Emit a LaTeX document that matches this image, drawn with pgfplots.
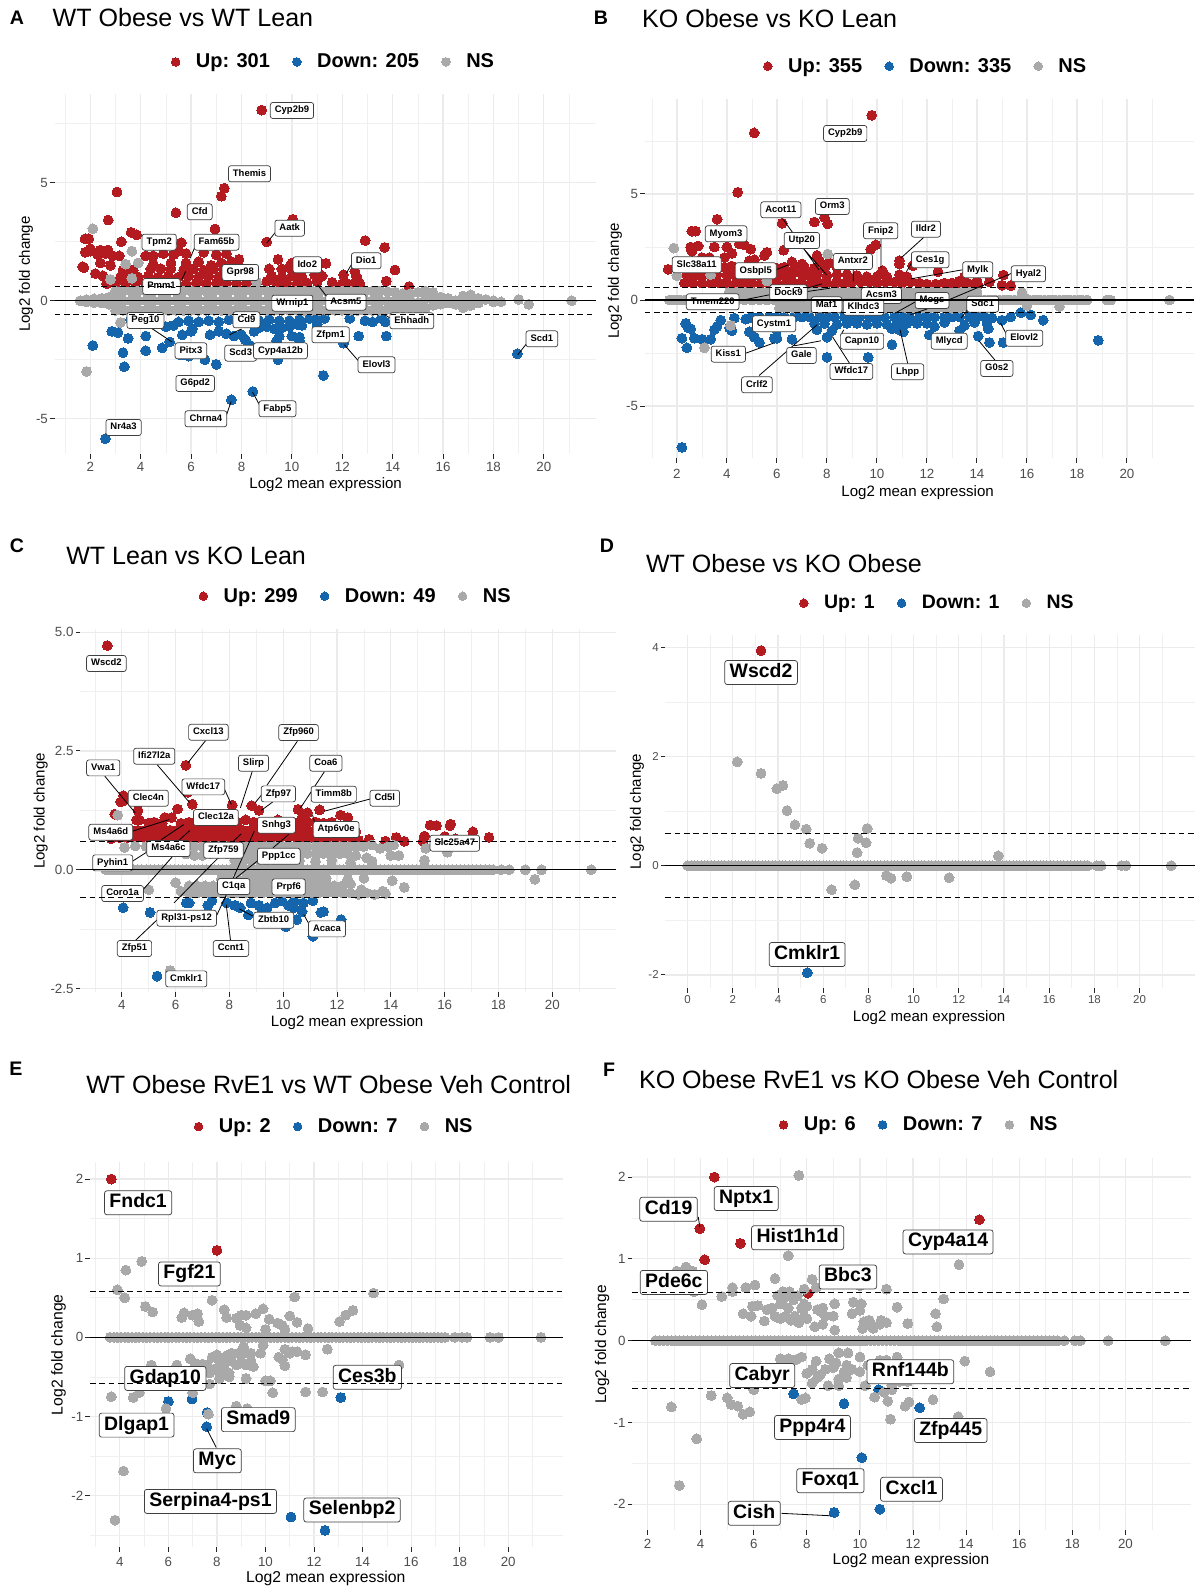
\documentclass[border=0pt]{standalone}
\usepackage{fontspec}
\setmainfont{Liberation Sans}
\usepackage{pgfplots}
\pgfplotsset{compat=1.18}
\definecolor{up}{HTML}{B31B21}
\definecolor{dn}{HTML}{1465AC}
\definecolor{ns}{HTML}{A9A9A9}
\definecolor{tk}{HTML}{4D4D4D}
\pgfplotsset{
 ma/.style={scale only axis, anchor=south west,
  axis line style={draw=none}, tick align=outside, xtick pos=bottom, ytick pos=left,
  major tick length=3.4pt, minor tick length=0pt,
  tick style={color=black!85,line width=.75pt},
  grid=both, major grid style={color=black!8,line width=.95pt}, minor grid style={color=black!6,line width=.5pt},
  xtick={0,2,...,20}, minor xtick={1,3,...,21},
  /pgf/number format/assume math mode=true,
  ticklabel style={font=\fontsize{10}{11}\selectfont,text=tk},
  tick label style={inner sep=1.5pt},
  xlabel={Log2 mean expression}, ylabel={Log2 fold change},
  label style={font=\fontsize{11.3}{12}\selectfont},
  legend columns=3, legend cell align=left,
  legend image post style={mark size=3.2pt},
  legend style={draw=none,fill=none,anchor=center,font=\bfseries\fontsize{15}{16}\selectfont,
    /tikz/every even column/.append style={column sep=15pt},
    /tikz/every odd column/.append style={column sep=10pt}},
  clip=false},
 up/.style={only marks,mark=*,mark size=3.7pt,color=up,mark options={draw=up,fill=up,line width=0pt}},
 dn/.style={only marks,mark=*,mark size=3.7pt,color=dn,mark options={draw=dn,fill=dn,line width=0pt}},
 ns/.style={only marks,mark=*,mark size=3.7pt,color=ns,mark options={draw=ns,fill=ns,line width=0pt}},
 hl/.style={scale only axis,anchor=south west,hide axis,clip=false},
}
\tikzset{
 lab/.style={draw=black!75,fill=white,rounded corners=1.8pt,line width=.55pt,font=\bfseries\fontsize{7.1}{8}\selectfont,
   inner xsep=3.4pt,inner ysep=0pt,text height=5pt,text depth=1.4pt,minimum height=12pt},
 big/.style={draw=black!75,fill=white,rounded corners=1.8pt,line width=.55pt,font=\bfseries\fontsize{14.6}{16}\selectfont,
   inner xsep=3.7pt,inner ysep=0pt,text height=10.4pt,text depth=3pt,minimum height=18pt},
 ttl/.style={anchor=west,inner sep=0pt,font=\fontsize{18.8}{20}\selectfont},
 pl/.style={inner sep=0pt,font=\bfseries\fontsize{14.7}{16}\selectfont},
 seg/.style={draw=black,line width=.6pt},
}
\newcommand\hlines[7]{%
\begin{axis}[hl,at={(#1)},width=#2pt,height=#3pt,xmin=#4,xmax=#5,ymin=#6,ymax=#7]
\addplot[black,line width=.95pt] coordinates {(#4,0)(#5,0)};
\addplot[black,line width=.75pt,dash pattern=on 4.2pt off 2.8pt] coordinates {(#4,.585)(#5,.585)};
\addplot[black,line width=.75pt,dash pattern=on 4.2pt off 2.8pt] coordinates {(#4,-.585)(#5,-.585)};
\end{axis}}
\begin{document}
\begin{tikzpicture}
\useasboundingbox (0,0) rectangle (897.75pt,-1191.75pt);
% ---------- A ----------
\begin{axis}[ma,at={(41.03pt,-340.5pt)},width=405.98pt,height=269.78pt,xmin=.587,xmax=22.07,ymin=-6.5,ymax=8.75,
 ytick={-5,0,5},minor ytick={-2.5,2.5,7.5},xticklabel style={yshift=-1.4pt},
 xlabel style={at={(axis description cs:.5006,-.085)},anchor=center},
 ylabel style={at={(axis description cs:-.053,.5)},anchor=center},
 legend style={at={(axis description cs:.516,1.09)}}]
\addplot[up] coordinates {(8.8,8.08)(3.06,4.61)(7.32,4.77)(7.2,4.43)(5.4,3.73)(2.71,3.42)(10.03,3.45)(6.95,3.04)(3.62,2.9)(3.84,2.79)(1.79,2.62)(1.94,2.62)(3.23,2.5)(5.61,2.46)(9,2.49)(12.91,2.55)(13.68,2.26)(14.09,1.3)(13.75,.83)(14.65,.6)(12.05,1.1)(12.5,1.25)(12.55,1.05)(12.6,.9)(12.15,.75)(11.35,1.58)
(2.65,.72)(3,.75)(3.4,.72)(3.8,.75)(4.2,.72)(4.6,.75)(5,.72)(5.4,.75)(5.8,.72)(6.2,.75)(6.6,.72)(7,.75)(7.4,.72)(7.8,.75)(8.2,.72)(8.6,.75)(9,.82)(9.4,.72)(9.8,.75)(10.2,.72)(10.6,.75)(11,.8)(11.6,.78)(12,.72)(12.4,.7)(12.7,.72)
(2.2,1.15)(2.5,1.05)(3.2,1)(3.5,1.05)(3.9,1)(4.3,1.05)(4.7,1)(5.1,1.05)(5.5,1)(5.9,1.05)(6.3,1)(6.7,1.05)(7.1,1)(7.5,1.05)(7.9,1.1)(8.3,.95)(9.2,1.05)(9.6,1)(10,1.05)(10.4,1)(10.9,1.1)(11.2,1.05)
(3.3,1.3)(3.7,1.3)(4.4,1.35)(4.8,1.35)(5.2,1.35)(5.7,1.3)(6.1,1.35)(6.5,1.3)(6.9,1.35)(7.3,1.3)(7.7,1.4)(9.1,1.35)(9.6,1.35)(9.9,1.4)(10.3,1.3)
(1.7,1.44)(1.75,1.4)(2.4,1.6)(2.8,1.5)(3.9,1.6)(4.5,1.55)(5.2,1.6)(5.8,1.6)(6.3,1.65)(6.8,1.5)(7.2,1.6)(7.6,1.65)(7.9,1.75)(9.45,1.75)(10,1.6)
(1.8,2.05)(2,2.1)(2.3,1.95)(2.6,2)(2.9,1.9)(3.15,1.9)(4.2,1.9)(4.5,1.9)(4.9,2)(5.3,1.95)(5.5,2.1)(5.8,2)(6.5,2.05)(7,1.95)(7.4,2)(2,2.2)(2.4,2.15)(2.7,2.15)};
\addlegendentry{Up: 301}
\addplot[dn] coordinates {(2.6,-5.85)(7.6,-4.2)(8.45,-3.85)(11.25,-3.17)(18.95,-2.25)(12.05,-1.8)(2.1,-1.9)(3.3,-2.2)(3.35,-2.8)(4.2,-2.12)(4.85,-2)(4.2,-1.5)(3.5,-1.6)(2.85,-1.3)(3.1,-1.35)(7,-2.7)(6.55,-2.5)(5.6,-2.3)(5.9,-2.35)(9.45,-2.5)(5.15,-1.75)(5.65,-1.45)(6.05,-1.2)(6,-1.3)(6.75,-1.45)(7.1,-1.3)(7.4,-1.4)(7.7,-1.5)(8,-1.45)(8.15,-1.65)(8.35,-1.9)(8.5,-1.3)(12.3,-.75)(12.9,-.85)(13.2,-.9)(13.55,-.75)(13.7,-.9)(13.75,-1.5)(12.65,-1.5)
(3.6,-.8)(4.2,-.85)(4.7,-.8)(5.5,-.9)(5.9,-.85)(6.3,-.9)(6.7,-.85)(7.1,-.9)(7.5,-.8)(7.9,-.85)(8.3,-.9)(8.7,-.85)(9.1,-.8)(9.5,-.85)(9.9,-.85)(10.3,-.8)(10.7,-.75)(11,-.8)(11.3,-.75)(5,-1.1)(5.3,-1.05)(8.7,-1.15)(9,-1.1)(9.3,-1.2)(9.6,-1.15)(9.9,-1.1)(10.2,-1)(10.4,-1.05)(9.5,-1.5)(10,-1.5)(10.3,-1.55)(9.4,-1.7)(10.3,-1.7)(11,-1)};
\addlegendentry{Down: 205}
\addplot[ns] coordinates {(1.6,0)(1.85,.05)(1.85,-.05)(2.15,.08)(2.15,-.08)(2.45,.1)(2.45,-.1)(2.75,.15)(2.75,-.15)(2.75,0)
(3,.41)(3.3,.41)(3.6,.41)(3.9,.41)(4.2,.41)(4.5,.41)(4.8,.41)(5.1,.41)(5.4,.41)(5.7,.41)(6,.41)(6.3,.41)(6.6,.41)(6.9,.41)(7.2,.41)(7.5,.41)(7.8,.41)(8.1,.41)(8.4,.41)(8.7,.41)(9,.41)(9.3,.41)(9.6,.41)(9.9,.41)(10.2,.41)(10.5,.41)(10.8,.41)(11.1,.41)(11.4,.41)(11.7,.41)(12,.41)(12.3,.41)(12.6,.41)(12.9,.41)(13.2,.41)(13.5,.41)(13.8,.38)(14.1,.36)
(3,0)(3.3,0)(3.6,0)(3.9,0)(4.2,0)(4.5,0)(4.8,0)(5.1,0)(5.4,0)(5.7,0)(6,0)(6.3,0)(6.6,0)(6.9,0)(7.2,0)(7.5,0)(7.8,0)(8.1,0)(8.4,0)(8.7,0)(9,0)(9.3,0)(9.6,0)(9.9,0)(10.2,0)(10.5,0)(10.8,0)(11.1,0)(11.4,0)(11.7,0)(12,0)(12.3,0)(12.6,0)(12.9,0)(13.2,0)(13.5,0)(13.8,0)(14.1,0)
(3,-.41)(3.3,-.41)(3.6,-.41)(3.9,-.41)(4.2,-.41)(4.5,-.41)(4.8,-.41)(5.1,-.41)(5.4,-.41)(5.7,-.41)(6,-.41)(6.3,-.41)(6.6,-.41)(6.9,-.41)(7.2,-.41)(7.5,-.41)(7.8,-.41)(8.1,-.41)(8.4,-.41)(8.7,-.41)(9,-.41)(9.3,-.41)(9.6,-.41)(9.9,-.41)(10.2,-.41)(10.5,-.41)(10.8,-.41)(11.1,-.41)(11.4,-.41)(11.7,-.41)(12,-.41)(12.3,-.41)(12.6,-.41)(12.9,-.41)(13.2,-.41)(13.5,-.41)(13.8,-.36)(14.1,-.35)
(3.2,.2)(3.8,.2)(4.4,.2)(5,.2)(5.6,.2)(6.2,.2)(6.8,.2)(7.4,.2)(8,.2)(8.6,.2)(9.2,.2)(9.8,.2)(10.4,.2)(11,.2)(11.6,.2)(12.2,.2)(12.8,.2)(13.4,.2)(3.2,-.2)(3.8,-.2)(4.4,-.2)(5,-.2)(5.6,-.2)(6.2,-.2)(6.8,-.2)(7.4,-.2)(8,-.2)(8.6,-.2)(9.2,-.2)(9.8,-.2)(10.4,-.2)(11,-.2)(11.6,-.2)(12.2,-.2)(12.8,-.2)(13.4,-.2)
(14.4,.3)(14.4,0)(14.4,-.3)(14.7,.3)(14.7,0)(14.7,-.3)(15,.35)(15,-.1)(15,-.35)(15.3,.4)(15.3,.1)(15.3,-.3)(15.6,.35)(15.6,0)(15.6,-.2)(15.9,.15)(15.9,-.15)(16.2,.1)(16.2,-.1)(16.5,0)(16.5,-.15)(16.8,.2)(16.8,-.05)(16.8,-.3)(17.1,.25)(17.1,0)(17.1,-.2)(17.4,.1)(17.4,-.1)(17.7,.05)(18,0)(18,-.05)(18.3,-.05)(19,.05)(19.4,-.15)(21.1,0)
(2.1,3.05)(3.65,2.1)(3.4,1.55)(3.9,1.6)(2.8,.9)(3.65,.95)(1.85,-3)(3.2,-.92)(8.6,.8)};
\addlegendentry{NS}
\end{axis}
% ---------- B ----------
\begin{axis}[ma,at={(483.6pt,-343.5pt)},width=411.9pt,height=269.25pt,xmin=.716,xmax=22.68,ymin=-7.45,ymax=9.48,
 ytick={-5,0,5},minor ytick={-7.5,-2.5,2.5,7.5},xticklabel style={yshift=-3.4pt},
 xlabel style={at={(axis description cs:.4967,-.0965)},anchor=center},
 ylabel style={at={(axis description cs:-.0543,.493)},anchor=center},
 legend style={at={(axis description cs:.5125,1.0915)}}]
\addplot[up] coordinates {(9.79,8.71)(5.09,7.88)(4.43,5.08)(3.61,3.81)(2.6,3.25)(2.75,3.25)(6.21,3.62)(7.5,3.68)(7.9,3.9)(8.03,3.59)(6.27,2.35)(9.95,2.6)(9.75,2.4)(10.9,1.86)(10.9,1.7)(11.43,1.62)(12.44,1.34)(10.22,1.38)(15.06,1.18)(15.35,.68)(15,.7)(14.5,.85)(14,.9)(13.5,1.1)(13.3,.9)(1.65,1.45)(2.55,2.5)(2.85,2.55)(3.5,2.5)(4,2.5)(4.5,2.65)(4.7,2.6)(4.95,2.4)(3.3,2)(4.2,2.2)(3.9,2)(5.5,2.1)(5.6,2.25)(5.1,1.9)(4.9,1.85)(2.6,2.3)(3,2)(7.6,2.1)(7.7,1.85)(6.6,1.8)(7,1.7)(8.1,1.75)(8.4,1.55)
(2.3,.8)(2.65,.8)(3,.8)(3.35,.8)(3.7,.8)(4,.8)(4.35,.8)(4.7,.8)(5,.8)(5.35,.8)(5.7,.8)(6,.8)(6.35,.8)(6.7,.8)(7,.8)(7.35,.8)(7.7,.8)(8,.8)(8.35,.8)(8.7,.8)(9,.85)(9.35,.85)(9.7,.85)(10,.8)(10.35,.85)(10.7,.85)(11,.8)(11.35,.85)(11.7,.8)(12,.75)(12.35,.75)(12.7,.8)(13,.8)(13.35,.7)(13.7,.75)(14.05,.7)
(2.4,1.2)(2.7,1.15)(3,1.1)(3.6,1.2)(4,1.2)(4.3,1.2)(4.6,1.15)(5,1.2)(5.3,1.15)(5.6,1.2)(6,1.2)(6.3,1.15)(6.6,1.2)(7,1.2)(7.3,1.15)(7.6,1.2)(8,1.15)(8.4,1.2)(8.8,1.2)(9.2,1.15)(9.6,1.1)(10,1.1)(10.4,1.1)(10.9,1.2)(11.2,1.1)
(2.1,1.5)(2.7,1.6)(3.1,1.5)(3.9,1.55)(4.2,1.6)(4.6,1.5)(5,1.6)(5.4,1.55)(6,1.5)(6.3,1.55)(6.7,1.5)(7.1,1.55)(7.5,1.5)(7.9,1.5)};
\addlegendentry{Up: 355}
\addplot[dn] coordinates {(2.2,-6.95)(18.85,-1.9)(2.35,-1.1)(2.45,-1.3)(2.55,-1.35)(2.2,-1.8)(2.4,-2.25)(2.7,-1.8)(3,-1.85)(3.35,-1.85)(3.5,-1.4)(3.6,-1.25)(3.75,-.95)(4.1,-1.3)(4.2,-1.45)(4.3,-.85)(4.75,-.9)(4.9,-.85)(4.9,-1.5)(5.1,-1.75)(5.3,-2)(5.9,-1.8)(6,-1.8)(6,-1.4)(6.6,-1.85)(7.6,-1.4)(8,-1.75)(8.2,-1.45)(8,-2.7)(9.65,-2.7)(10.6,-2.1)(11.05,-1.5)(12.1,-1.65)(12.3,-1.25)(13.3,-1.45)(14.05,-1.7)(14.45,-1.35)(14.5,-2)(15,-.95)(15.05,-2)(15.35,-.8)(15.75,-.6)(16.15,-.7)(16.65,-.95)
(5,-.8)(5.3,-.8)(5.7,-.8)(6,-.8)(6.3,-.8)(6.7,-.8)(7,-.8)(7.3,-.8)(7.7,-.8)(8,-.8)(8.3,-.8)(8.7,-.8)(9,-.8)(9.3,-.8)(9.7,-.8)(10,-.8)(10.3,-.8)(10.7,-.8)(11,-.8)(11.3,-.8)(11.7,-.8)(12,-.8)(12.3,-.8)(12.7,-.8)(13,-.8)(13.3,-.8)(13.7,-.8)(14,-.8)(14.3,-.8)(14.6,-.85)
(7.5,-1.1)(7.9,-1.1)(8.4,-1.15)(8.8,-1.1)(9.2,-1.1)(9.6,-1.15)(10,-1.1)(10.4,-1.15)(10.8,-1.1)(11.2,-1.1)(11.6,-1.1)(12,-1.1)(12.7,-1.05)(13.5,-1.2)(13.9,-1.05)(14.4,-1.1)(10.6,-1.35)(10.9,-1.4)};
\addlegendentry{Down: 335}
\addplot[ns] coordinates {(1.7,0)(2,0)(2.3,0)(2.6,0)(2.9,0)(3.2,0)(3.5,0)(3.8,0)(4.1,0)(4.4,0)(4.7,0)(5,0)(5.3,0)(5.6,0)(5.9,0)(6.2,0)(6.5,0)(6.8,0)(7.1,0)(7.4,0)(7.7,0)(8,0)(8.3,0)(8.6,0)(8.9,0)(9.2,0)(9.5,0)(9.8,0)(10.1,0)(10.4,0)(10.7,0)(11,0)(11.3,0)(11.6,0)(11.9,0)(12.2,0)(12.5,0)(12.8,0)(13.1,0)(13.4,0)(13.7,0)(14,0)(14.3,0)(14.6,0)(14.9,0)(15.2,0)(15.5,0)(15.8,0)(16.1,0)(16.4,0)(16.7,0)(17,0)(17.3,0)(17.6,0)(17.9,0)(18.2,0)(18.4,0)(19.2,0)(19.35,0)(21.7,0)
(1.85,0)(2.15,0)(2.45,0)(2.75,0)(3.05,0)(14.15,0)(14.45,0)(14.75,0)(15.05,0)(15.35,0)(15.65,0)(15.95,0)(16.25,0)(16.55,0)(16.85,0)(17.15,0)(17.45,0)(17.75,0)(18.05,0)
(1.88,2.45)(8.03,2.17)(2,1.15)(3.35,1.2)(5.6,.9)(4.15,-1.2)(3.1,-2.25)(15.8,.35)(16,-.25)(17.3,-.3)(16,.05)
(4.1,.38)(4.4,.38)(4.7,.38)(5,.38)(5.3,.38)(5.6,.38)(5.9,.38)(6.2,.38)(6.5,.38)(6.8,.38)(7.1,.38)(7.4,.38)(7.7,.38)(8,.38)(8.3,.38)(8.6,.38)(8.9,.38)(9.2,.38)(9.5,.38)(9.8,.38)(10.1,.38)(10.4,.38)(10.7,.38)(11,.38)(11.3,.38)(11.6,.38)(11.9,.38)(12.2,.38)(12.5,.38)(12.8,.38)(13.1,.38)(13.4,.38)(13.7,.38)(14,.38)
(6.1,-.38)(6.4,-.38)(6.7,-.38)(7,-.38)(7.3,-.38)(7.6,-.38)(7.9,-.38)(8.2,-.38)(8.5,-.38)(8.8,-.38)(9.1,-.38)(9.4,-.38)(9.7,-.38)(10,-.38)(10.3,-.38)(10.6,-.38)(10.9,-.38)(11.2,-.38)(11.5,-.38)(11.8,-.38)(12.1,-.38)(12.4,-.38)(12.7,-.38)(13,-.38)(13.3,-.38)(13.6,-.3)};
\addlegendentry{NS}
\end{axis}
% ---------- C ----------
\begin{axis}[ma,at={(60.23pt,-744.2pt)},width=401.8pt,height=272.5pt,xmin=2.457,xmax=22.37,ymin=-2.58,ymax=5.07,
 ytick={-2.5,0,2.5,5},yticklabels={-2.5,0.0,2.5,5.0},minor ytick={-1.25,1.25,3.75},xticklabel style={yshift=-1.2pt},
 xlabel style={at={(axis description cs:.498,-.083)},anchor=center},
 ylabel style={at={(axis description cs:-.074,.499)},anchor=center},
 legend style={at={(axis description cs:.515,1.09)}}]
\addplot[up] coordinates {(3.46,4.72)(6.38,2.2)(4.06,1.56)(3.96,1.43)(4.05,1.45)(3.74,1.17)(4.6,1.25)(4.55,1.05)(4.65,1.05)(6.07,1.28)(6.62,1.38)(6.45,1.63)(8.1,1.36)(8.83,1.35)(9.1,1.25)(10.55,1.27)(11.35,1.26)(10.9,1.2)(10.7,1.1)(12.13,1.15)(12.4,1.1)(5.6,1.1)(5.2,1)(5.85,1.1)(12.8,.62)(13.2,.64)(13.8,.6)(14.2,.68)(14.5,.6)(15.25,.71)(15.2,.6)(15.46,.94)(15.7,.93)(16.22,.96)(16.2,.93)(17.05,.8)(17.05,.65)(17.65,.68)(16,.7)(16.4,.65)(3.6,.65)(12.7,.8)
(3.9,.68)(4.2,.68)(4.5,.68)(4.8,.68)(5.1,.68)(5.4,.68)(5.7,.68)(6,.68)(6.3,.68)(6.6,.68)(6.9,.68)(7.2,.68)(7.5,.68)(7.8,.68)(8.1,.68)(8.4,.68)(8.7,.68)(9,.68)(9.3,.68)(9.6,.68)(9.9,.68)(10.2,.68)(10.5,.68)(10.8,.68)(11.1,.68)(11.4,.68)(11.7,.68)(12,.68)(12.3,.68)(12.6,.68)
(4.3,.83)(4.6,.83)(4.9,.83)(5.2,.83)(5.5,.83)(5.8,.83)(6.1,.83)(6.4,.83)(6.7,.83)(7,.83)(7.3,.83)(7.6,.83)(7.9,.83)(8.2,.83)(8.5,.83)(8.8,.83)(9.1,.83)(9.4,.83)(9.7,.83)(10,.83)(10.3,.83)(10.6,.83)(10.9,.83)(11.2,.83)(11.5,.83)(11.8,.83)(12.1,.83)(12.4,.83)
(5,.98)(5.5,.98)(6.2,.98)(6.5,1)(7,.98)(7.5,.98)(8,.98)(8.3,1)(8.6,1.05)(8.9,1)(9.2,1)(9.5,.98)(9.8,1.05)(10.1,1)(10.6,1)(10.9,1)(11.2,1)(11.5,.98)(11.8,1)};
\addlegendentry{Up: 299}
\addplot[dn] coordinates {(5.31,-2.24)(4.05,-.8)(5.05,-.9)(6.4,-.7)(6.5,-.7)(7.2,-.75)(7.35,-.65)(7.9,-.7)(8.2,-.75)(8.4,-.8)(8.8,-.7)(9.1,-.75)(9.4,-.8)(9.7,-.7)(9.95,-.65)(10.2,-.75)(10.4,-.8)(10.4,-.65)(10.75,-.7)(10.7,-.88)(11.1,-.65)(11.4,-.9)(11.5,-.88)(12.15,-1.05)(10.1,-1.2)(11.1,-1.4)(10.5,-1.05)(9.2,-.9)(8.7,-.95)};
\addlegendentry{Down: 49}
\addplot[ns] coordinates {(3.4,0)(3.7,0)(4,0)(4.3,0)(4.6,0)(4.9,0)(5.2,0)(5.5,0)(5.8,0)(6.1,0)(6.4,0)(6.7,0)(7,0)(7.3,0)(7.6,0)(7.9,0)(8.2,0)(8.5,0)(8.8,0)(9.1,0)(9.4,0)(9.7,0)(10,0)(10.3,0)(10.6,0)(10.9,0)(11.2,0)(11.5,0)(11.8,0)(12.1,0)(12.4,0)(12.7,0)(13,0)(13.3,0)(13.6,0)(13.9,0)(14.2,0)(14.5,0)(14.8,0)(15.1,0)(15.4,0)(15.7,0)(16,0)(16.3,0)(16.6,0)(16.9,0)(17.2,0)(17.5,0)(17.8,0)(18.1,0)(18.4,0)(19,0)(19.6,0)(21.45,0)(19.35,-.2)(3.85,1.15)(5,-.42)(15.25,.2)(15.3,.45)(16.1,.37)(14.5,-.37)(14.05,-.23)(13.8,-.5)(14,.3)(14.3,.3)(5.8,-2.12)
(3.55,0)(3.85,0)(4.15,0)(4.45,0)(4.75,0)(5.05,0)(5.35,0)(5.65,0)(5.95,0)(6.25,0)(6.55,0)(6.85,0)(7.15,0)(7.45,0)(7.75,0)(8.05,0)(8.35,0)(8.65,0)(8.95,0)(9.25,0)(9.55,0)(9.85,0)(10.15,0)(10.45,0)(10.75,0)(11.05,0)(11.35,0)(11.65,0)(11.95,0)(12.25,0)(12.55,0)(12.85,0)(13.15,0)(13.45,0)(13.75,0)(14.05,0)(14.35,0)(14.65,0)(14.95,0)(15.25,0)(15.55,0)(15.85,0)(16.15,0)(16.45,0)(16.75,0)(17.05,0)(17.35,0)(17.65,0)
(4.1,.47)(4.5,.5)(4.9,.49)(5.2,.47)(5.5,.49)(5.8,.49)(6.1,.45)(6.4,.49)(6.7,.49)(7,.49)(7.3,.49)(7.6,.49)(7.9,.49)(8.2,.49)(8.5,.49)(8.8,.49)(9.1,.49)(9.4,.49)(9.7,.49)(10,.49)(10.3,.49)(10.6,.49)(10.9,.49)(11.2,.49)(11.5,.49)(11.8,.49)(12.1,.49)(12.4,.49)(12.7,.49)(13,.49)(13.3,.52)(13.6,.45)(13.9,.48)(14.1,.52)
(6.4,.33)(6.7,.3)(7,.3)(7.3,.34)(7.6,.34)(7.9,.34)(8.2,.34)(8.5,.34)(8.8,.34)(9.1,.34)(9.4,.34)(9.7,.34)(10,.34)(10.3,.34)(10.6,.34)(10.9,.34)(11.2,.34)(11.5,.34)(11.8,.34)(12.1,.34)(12.4,.34)(12.7,.3)(13.1,.25)(13.3,.18)
(8.2,.2)(8.5,.2)(8.8,.2)(9.1,.2)(9.4,.2)(9.7,.2)(10,.2)(10.3,.2)(10.6,.2)(11.2,.18)(11.8,.2)(12.5,.15)
(6,-.27)(6.2,-.45)(6.5,-.49)(6.8,-.49)(7.1,-.49)(7.4,-.49)(7.7,-.49)(8,-.49)(8.3,-.49)(8.6,-.49)(8.9,-.49)(9.2,-.49)(9.5,-.49)(9.8,-.49)(10.1,-.49)(10.4,-.49)(10.7,-.49)(11,-.49)(11.3,-.49)(11.6,-.49)(11.9,-.49)(12.2,-.49)(12.5,-.49)(12.8,-.52)(13.1,-.49)(13.4,-.52)(13.7,-.45)
(6.5,-.34)(6.8,-.34)(7.1,-.34)(7.4,-.34)(7.7,-.34)(8,-.34)(8.3,-.34)(8.6,-.34)(8.9,-.34)(9.2,-.34)(9.5,-.34)(9.8,-.34)(10.1,-.34)(10.4,-.34)(10.7,-.34)(11,-.34)(11.3,-.34)(11.6,-.34)(11.9,-.34)(12.2,-.34)(12.5,-.3)(12.9,-.42)
(7.7,-.2)(8,-.2)(8.3,-.2)(8.6,-.2)(8.9,-.2)(9.2,-.2)(9.5,-.2)(9.8,-.2)(10.1,-.2)(10.4,-.2)(10.7,-.18)(11,-.2)(11.3,-.18)(11.6,-.18)(12.4,-.2)(13,-.18)};
\addlegendentry{NS}
\end{axis}
% ---------- D ----------
\begin{axis}[ma,at={(499.1pt,-741.2pt)},width=397.1pt,height=265pt,xmin=-.98,xmax=22.45,ymin=-2.245,ymax=4.225,
 ytick={-2,0,2,4},minor ytick={-1,1,3},
 ticklabel style={font=\fontsize{8.6}{9}\selectfont,text=tk},xticklabel style={yshift=-.4pt},
 xlabel style={at={(axis description cs:.498,-.083)},anchor=center},
 ylabel style={at={(axis description cs:-.0538,.5)},anchor=center},
 legend style={at={(axis description cs:.5146,1.09)},font=\bfseries\fontsize{14.6}{16}\selectfont}]
\addplot[up] coordinates {(3.25,3.94)};
\addlegendentry{Up: 1}
\addplot[dn] coordinates {(5.3,-1.96)};
\addlegendentry{Down: 1}
\addplot[ns] coordinates {(2.2,1.9)(3.25,1.69)(3.95,1.41)(4.22,1.47)(4.4,1.01)(4.75,.75)(5.25,.67)(5.4,.41)(5.95,.32)(7.95,.68)(7.55,.5)(7.9,.42)(7.5,.24)(13.75,.18)(8.8,-.18)(9,-.23)(9.7,-.2)(11.57,-.22)(7.4,-.35)(6.37,-.44)(18.1,0)(18.3,0)(19.2,0)(19.4,0)(21.4,0)
(0,0)(.3,0)(.6,0)(.9,0)(1.2,0)(1.5,0)(1.8,0)(2.1,0)(2.4,0)(2.7,0)(3,0)(3.3,0)(3.6,0)(3.9,0)(4.2,0)(4.5,0)(4.8,0)(5.1,0)(5.4,0)(5.7,0)(6,0)(6.3,0)(6.6,0)(6.9,0)(7.2,0)(7.5,0)(7.8,0)(8.1,0)(8.4,0)(8.7,0)(9,0)(9.3,0)(9.6,0)(9.9,0)(10.2,0)(10.5,0)(10.8,0)(11.1,0)(11.4,0)(11.7,0)(12,0)(12.3,0)(12.6,0)(12.9,0)(13.2,0)(13.5,0)(13.8,0)(14.1,0)(14.4,0)(14.7,0)(15,0)(15.3,0)(15.6,0)(15.9,0)(16.2,0)(16.5,0)(16.8,0)(17.1,0)(17.4,0)(17.7,0)
(.15,0)(.45,0)(.75,0)(1.05,0)(1.35,0)(1.65,0)(1.95,0)(2.25,0)(2.55,0)(2.85,0)(3.15,0)(3.45,0)(3.75,0)(4.05,0)(4.35,0)(4.65,0)(4.95,0)(5.25,0)(5.55,0)(5.85,0)(6.15,0)(6.45,0)(6.75,0)(7.05,0)(7.35,0)(7.65,0)(7.95,0)(8.25,0)(8.55,0)(8.85,0)(9.15,0)(9.45,0)(9.75,0)(10.05,0)(10.35,0)(10.65,0)(10.95,0)(11.25,0)(11.55,0)(11.85,0)(12.15,0)(12.45,0)(12.75,0)(13.05,0)(13.35,0)(13.65,0)(13.95,0)(14.25,0)(14.55,0)(14.85,0)(15.15,0)(15.45,0)(15.75,0)(16.05,0)(16.35,0)(16.65,0)(16.95,0)(17.25,0)(17.55,0)};
\addlegendentry{NS}
\end{axis}
% ---------- E ----------
\begin{axis}[ma,at={(67.5pt,-1160.25pt)},width=354.45pt,height=289pt,xmin=2.77,xmax=22.24,ymin=-2.65,ymax=2.22,
 ytick={-2,-1,0,1,2},minor ytick={-2.5,-1.5,-.5,.5,1.5},xticklabel style={yshift=-2.4pt},
 xlabel style={at={(axis description cs:.499,-.0825)},anchor=center},
 ylabel style={at={(axis description cs:-.0664,.499)},anchor=center},
 label style={font=\fontsize{11.8}{12}\selectfont},
 legend style={at={(axis description cs:.518,1.091)}}]
\addplot[up] coordinates {(3.65,2)(8,1.1)};
\addlegendentry{Up: 2}
\addplot[dn] coordinates {(6,-.81)(6.97,-.78)(7.6,-.95)(7.58,-1.13)(11.05,-2.27)(12.45,-2.44)(13.1,-.76)};
\addlegendentry{Down: 7}
\addplot[ns] coordinates {(4.9,.96)(4.25,.85)(3.9,.6)(4.2,.5)(7.8,.47)(11.2,.51)(14.45,.56)(5.05,.39)(5.35,.32)(6.55,.25)(6.65,.31)(7,.28)(7.2,.3)(7.25,.2)(8.3,.35)(8.4,.25)(8.8,.24)(8.95,.15)(9,.28)(9.2,.28)(9.2,.12)(9.6,.3)(9.9,.36)(10,.1)(10.15,.23)(10.5,.18)(10.7,.15)(10.8,.1)(11,.27)(11.3,.19)(11.75,.11)(13.05,.2)(13.3,.28)(13.6,.34)
(9.1,-.12)(9.9,-.1)(12.55,-.15)(11.65,-.22)(15.5,-.35)(10.8,-.15)(11.1,-.18)(11.3,-.18)(10.7,-.28)(11,-.2)(10.55,-.25)(10.8,-.36)(9.8,-.2)(9.4,-.2)(9.1,-.2)(8.9,-.2)(8.6,-.2)(8.4,-.23)(8,-.22)(7.8,-.25)(8.1,-.3)(8.3,-.35)(8.6,-.3)(8.8,-.35)(9,-.3)(9.2,-.35)(9.4,-.3)(9.5,-.37)(7.9,-.4)(8.2,-.42)(8.5,-.45)(8.1,-.52)(8.5,-.5)(6.9,-.27)(7.1,-.33)(7.4,-.34)(7.6,-.35)(7.7,-.45)(9.2,-.52)(10,-.55)(10.2,-.55)(5.3,-.35)(6.35,-.35)
(3.65,-.75)(4.55,-.76)(4.8,-.7)(10.3,-.7)(11.65,-.69)(12.35,-.69)(7,-.7)(7.7,-.59)(5.9,-.9)(7.65,-.97)(8.8,-.87)(9.25,-.9)(4.15,-1.69)(3.8,-2.31)
(3.6,0)(3.9,0)(4.2,0)(4.5,0)(4.8,0)(5.1,0)(5.4,0)(5.7,0)(6,0)(6.3,0)(6.6,0)(6.9,0)(7.2,0)(7.5,0)(7.8,0)(8.1,0)(8.4,0)(8.7,0)(9,0)(9.3,0)(9.6,0)(9.9,0)(10.2,0)(10.5,0)(10.8,0)(11.1,0)(11.4,0)(11.7,0)(12,0)(12.3,0)(12.6,0)(12.9,0)(13.2,0)(13.5,0)(13.8,0)(14.1,0)(14.4,0)(14.7,0)(15,0)(15.3,0)(15.6,0)(15.9,0)(16.2,0)(16.5,0)(16.8,0)(17.1,0)(17.4,0)(17.8,0)(18.1,0)(18.3,0)(19.25,0)(19.6,0)(21.35,0)
(3.75,0)(4.05,0)(4.35,0)(4.65,0)(4.95,0)(5.25,0)(5.55,0)(5.85,0)(6.15,0)(6.45,0)(6.75,0)(7.05,0)(7.35,0)(7.65,0)(7.95,0)(8.25,0)(8.55,0)(8.85,0)(9.15,0)(9.45,0)(9.75,0)(10.05,0)(10.35,0)(10.65,0)(10.95,0)(11.25,0)(11.55,0)(11.85,0)(12.15,0)(12.45,0)(12.75,0)(13.05,0)(13.35,0)(13.65,0)(13.95,0)(14.25,0)(14.55,0)(14.85,0)(15.15,0)(15.45,0)(15.75,0)(16.05,0)(16.35,0)(16.65,0)(16.95,0)(17.25,0)};
\addlegendentry{NS}
\end{axis}
% ---------- F ----------
\begin{axis}[ma,at={(474.3pt,-1147.8pt)},width=418.95pt,height=279.3pt,xmin=1.43,xmax=22.47,ymin=-2.32,ymax=2.233,
 ytick={-2,-1,0,1,2},minor ytick={-1.5,-.5,.5,1.5},xticklabel style={yshift=-1.7pt},
 xlabel style={at={(axis description cs:.4987,-.082)},anchor=center},
 ylabel style={at={(axis description cs:-.0544,.499)},anchor=center},
 label style={font=\fontsize{11.6}{12}\selectfont},
 legend style={at={(axis description cs:.5144,1.089)}}]
\addplot[up] coordinates {(4.52,2)(3.97,1.37)(5.5,1.19)(4.15,.99)(8.05,.58)(14.5,1.48)};
\addlegendentry{Up: 6}
\addplot[dn] coordinates {(7.5,-.65)(9.4,-.77)(10.7,-.6)(12.25,-.82)(10.07,-1.43)(10.75,-2.06)(9.03,-2.1)};
\addlegendentry{Down: 7}
\addplot[ns] coordinates {(7.7,2.02)(7.3,1.04)(13.73,.93)(3.45,.9)(3.1,.85)(3.7,.85)(4,.8)(3.5,.75)(3.9,.65)(3.75,.6)(4.05,.44)(4.8,.54)(5.2,.65)(5.2,.6)(5.7,.65)(6.05,.68)(6.8,.76)(8.2,.75)(8.35,.65)(7.1,.6)(7.35,.6)(7.9,.63)(10,.67)(11,.63)(13.15,.51)(11.4,.41)(12.85,.33)(12.9,.17)(11.8,.21)(10,.37)(9.75,.47)(10.05,.45)(9.7,.33)(10.1,.15)(10.15,.23)(10.35,.25)(10.4,.2)(10.5,.15)(10.75,.2)(10.8,.25)(11,.22)(9.05,.13)(9.05,.45)(9,.3)(8.55,.35)(8.4,.38)(8.6,.4)(8.7,.3)(8.6,.2)(8.3,.17)
(5.6,.33)(5.9,.3)(5.95,.42)(6.15,.43)(6.4,.24)(6.5,.38)(6.7,.4)(6.8,.3)(7,.27)(7,.45)(7.1,.5)(7.2,.3)(7.3,.4)(7.4,.25)(7.5,.5)(7.55,.3)(7.7,.22)(7.8,.4)(7.9,.3)(7.9,.45)(8,.27)(8,.42)(6.9,.55)(7.2,.55)(7.65,.55)
(14.9,-.38)(13.95,-.25)(9.2,-.15)(9.55,-.15)(10,-.2)(10.75,-.24)(11,-.24)(11.4,-.2)(7,-.22)(7.3,-.22)(7.6,-.23)(8.35,-.25)(8.85,-.22)(9.1,-.27)(9.5,-.3)(9.7,-.35)(9.4,-.38)(9,-.33)(8.7,-.35)(8.5,-.42)(8.2,-.35)(8.4,-.45)(8,-.4)(7.8,-.2)(9.2,-.47)(9.5,-.45)(10,-.38)(10.3,-.3)(8.2,-.52)(8.8,-.55)(9.2,-.55)(10.2,-.55)(11.2,-.55)(11.5,-.5)(11.8,-.5)(12,-.4)(13,-.45)(6,-.55)(6,-.6)
(4.4,-.67)(5,-.7)(5.15,-.78)(5.4,-.8)(5.6,-.9)(5.85,-.87)(2.9,-.81)(3.85,-1.2)(3.2,-1.77)(7.8,-.72)(7.95,-.7)(10.55,-.69)(10.9,-.63)(11.05,-.74)(11.2,-.6)(11.15,-.96)(11.7,-.8)(11.85,-.75)(12.75,-.72)(13.7,-.93)
(2.3,0)(2.6,0)(2.9,0)(3.2,0)(3.5,0)(3.8,0)(4.1,0)(4.4,0)(4.7,0)(5,0)(5.3,0)(5.6,0)(5.9,0)(6.2,0)(6.5,0)(6.8,0)(7.1,0)(7.4,0)(7.7,0)(8,0)(8.3,0)(8.6,0)(8.9,0)(9.2,0)(9.5,0)(9.8,0)(10.1,0)(10.4,0)(10.7,0)(11,0)(11.3,0)(11.6,0)(11.9,0)(12.2,0)(12.5,0)(12.8,0)(13.1,0)(13.4,0)(13.7,0)(14,0)(14.3,0)(14.6,0)(14.9,0)(15.2,0)(15.5,0)(15.8,0)(16.1,0)(16.4,0)(16.7,0)(17,0)(17.3,0)(17.7,0)(18.1,0)(18.3,0)(19.35,0)(21.5,0)
(2.45,0)(2.75,0)(3.05,0)(3.35,0)(3.65,0)(3.95,0)(4.25,0)(4.55,0)(4.85,0)(5.15,0)(5.45,0)(5.75,0)(6.05,0)(6.35,0)(6.65,0)(6.95,0)(7.25,0)(7.55,0)(7.85,0)(8.15,0)(8.45,0)(8.75,0)(9.05,0)(9.35,0)(9.65,0)(9.95,0)(10.25,0)(10.55,0)(10.85,0)(11.15,0)(11.45,0)(11.75,0)(12.05,0)(12.35,0)(12.65,0)(12.95,0)(13.25,0)(13.55,0)(13.85,0)(14.15,0)(14.45,0)(14.75,0)(15.05,0)(15.35,0)(15.65,0)(15.95,0)(16.25,0)(16.55,0)(16.85,0)(17.15,0)(17.45,0)};
\addlegendentry{NS}
\end{axis}
% ---------- titles and panel letters ----------
\node[ttl] at (39.3pt,-13pt) {WT Obese vs WT Lean};
\node[ttl] at (481.4pt,-13.7pt) {KO Obese vs KO Lean};
\node[ttl] at (49.5pt,-417pt) {WT Lean vs KO Lean};
\node[ttl] at (484.3pt,-423pt) {WT Obese vs KO Obese};
\node[ttl] at (64.5pt,-813.3pt) {WT Obese RvE1 vs WT Obese Veh Control};
\node[ttl] at (479.1pt,-810pt) {KO Obese RvE1 vs KO Obese Veh Control};
\node[pl] at (12.75pt,-13.1pt) {A};
\node[pl] at (450.75pt,-13pt) {B};
\node[pl] at (12.75pt,-409.3pt) {C};
\node[pl] at (455.25pt,-409.3pt) {D};
\node[pl] at (12pt,-801.75pt) {E};
\node[pl] at (456.75pt,-802.2pt) {F};
% ---------- gene labels A ----------
\begin{scope}[shift={(0pt,-1.1pt)},x=.287pt,y=-.25pt]
\draw[seg] (720,692)--(697,725) (510,735)--(497,770) (475,835)--(485,810) (918,790)--(905,815) (830,850)--(855,887) (398,982)--(450,1022) (630,983)--(600,1000) (900,1030)--(938,1080) (1377,1025)--(1353,1060) (660,1172)--(678,1210) (604,1200)--(592,1240) (1020,950)--(1005,940);
\node[lab] at (763,327){Cyp2b9}; \node[lab] at (652,517){Themis}; \node[lab] at (522,631){Cfd}; \node[lab] at (757,680){Aatk}; \node[lab] at (416,722){Tpm2}; \node[lab] at (566,722){Fam65b}; \node[lab] at (628,813){Gpr98}; \node[lab] at (803,790){Ido2}; \node[lab] at (957,778){Dio1}; \node[lab] at (422,855){Pmm1}; \node[lab] at (764,905){Wrnip1}; \node[lab] at (904,902){Acsm5}; \node[lab] at (380,957){Peg10}; \node[lab] at (644,955){Cd9}; \node[lab] at (1076,958){Ehhadh}; \node[lab] at (864,1000){Zfpm1}; \node[lab] at (499,1048){Pitx3}; \node[lab] at (629,1055){Scd3}; \node[lab] at (733,1048){Cyp4a12b}; \node[lab] at (984,1090){Elovl3}; \node[lab] at (1416,1012){Scd1}; \node[lab] at (510,1146){G6pd2}; \node[lab] at (725,1222){Fabp5}; \node[lab] at (538,1252){Chrna4}; \node[lab] at (323,1278){Nr4a3};
\end{scope}
% ---------- gene labels B ----------
\begin{scope}[shift={(450pt,-1.1pt)},x=.2856pt,y=-.25pt]
\draw[seg] (480,652)--(505,692) (535,742)--(575,805) (535,742)--(595,820) (462,805)--(495,790) (738,712)--(738,800) (850,708)--(790,770) (818,785)--(805,810) (952,805)--(817,832) (1082,815)--(920,893) (665,805)--(665,840) (545,860)--(583,847) (365,898)--(445,880) (545,870)--(605,860) (830,900)--(775,935) (815,940)--(860,922) (965,925)--(948,950) (418,1122)--(570,970) (510,1033)--(580,1018) (383,1055)--(458,1024) (655,1085)--(610,1005) (808,1086)--(788,985) (1038,1077)--(995,1018) (1068,1000)--(1052,965) (633,1000)--(640,985);
\node[lab] at (644,396){Cyp2b9}; \node[lab] at (610,615){Orm3}; \node[lab] at (475,625){Acot11}; \node[lab] at (331,697){Myom3}; \node[lab] at (530,717){Utp20}; \node[lab] at (737,688){Fnip2}; \node[lab] at (856,683){Ildr2}; \node[lab] at (664,780){Antxr2}; \node[lab] at (867,775){Ces1g}; \node[lab] at (254,790){Slc38a11}; \node[lab] at (409,808){Osbpl5}; \node[lab] at (992,805){Mylk}; \node[lab] at (1125,817){Hyal2}; \node[lab] at (495,874){Dock9}; \node[lab] at (296,901){Tmem220}; \node[lab] at (739,882){Acsm3}; \node[lab] at (872,897){Mogs}; \node[lab] at (1005,908){Sdc1}; \node[lab] at (595,910){Maf1}; \node[lab] at (692,917){Klhdc3}; \node[lab] at (457,967){Cystm1}; \node[lab] at (688,1019){Capn10}; \node[lab] at (917,1019){Mlycd}; \node[lab] at (1114,1010){Elovl2}; \node[lab] at (337,1058){Kiss1}; \node[lab] at (529,1062){Gale}; \node[lab] at (660,1110){Wfdc17}; \node[lab] at (808,1111){Lhpp}; \node[lab] at (1042,1101){G0s2}; \node[lab] at (412,1150){Crlf2};
\end{scope}
% ---------- gene labels C ----------
\begin{scope}[shift={(0pt,-398.4pt)},x=.2966pt,y=-.25pt]
\draw[seg] (520,628)--(475,695) (752,630)--(675,762) (662,790)--(645,815) (690,812)--(660,838) (397,700)--(480,815) (638,720)--(608,830) (820,722)--(760,830) (265,735)--(342,845) (568,775)--(585,820) (790,850)--(797,880) (937,803)--(820,840) (335,900)--(428,865) (335,990)--(372,962) (408,925)--(465,880) (450,930)--(480,898) (362,1075)--(437,975) (343,1227)--(398,1165) (440,1115)--(550,982) (643,900)--(590,1040) (690,950)--(730,910) (650,990)--(597,1040) (547,1155)--(572,1092) (583,1228)--(572,1120) (640,1155)--(605,1133) (782,1180)--(768,1150) (610,908)--(590,930);
\node[lab] at (269,397){Wscd2}; \node[lab] at (527,603){Cxcl13}; \node[lab] at (755,604){Zfp960}; \node[lab] at (390,675){Ifi27l2a}; \node[lab] at (641,696){Slirp}; \node[lab] at (824,696){Coa6}; \node[lab] at (261,710){Vwa1}; \node[lab] at (514,767){Wfdc17}; \node[lab] at (704,788){Zfp97}; \node[lab] at (844,789){Timm8b}; \node[lab] at (375,801){Clec4n}; \node[lab] at (973,801){Cd5l}; \node[lab] at (546,859){Clec12a}; \node[lab] at (699,882){Snhg3}; \node[lab] at (280,903){Ms4a6d}; \node[lab] at (850,895){Atp6v0e}; \node[lab] at (1150,936){Slc25a47}; \node[lab] at (426,952){Ms4a6c}; \node[lab] at (565,957){Zfp759}; \node[lab] at (705,975){Ppp1cc}; \node[lab] at (285,995){Pyhin1}; \node[lab] at (310,1087){Coro1a}; \node[lab] at (591,1066){C1qa}; \node[lab] at (730,1067){Prpf6}; \node[lab] at (472,1161){Rpl31-ps12}; \node[lab] at (692,1167){Zbtb10}; \node[lab] at (827,1193){Acaca}; \node[lab] at (340,1252){Zfp51}; \node[lab] at (584,1252){Ccnt1}; \node[lab] at (471,1343){Cmklr1};
\end{scope}
% ---------- gene labels D ----------
\begin{scope}[shift={(450pt,-398.9pt)},x=.2856pt,y=-.25pt]
\node[big] at (423,422){Wscd2}; \node[big] at (544,1268){Cmklr1};
\end{scope}
% ---------- gene labels E ----------
\begin{scope}[shift={(0pt,-788.7pt)},x=.287pt,y=-.2577pt]
\draw[seg] (565,1152)--(540,1097);
\node[big] at (361,440){Fndc1}; \node[big] at (495,647){Fgf21}; \node[big] at (432,951){Gdap10}; \node[big] at (960,948){Ces3b}; \node[big] at (357,1087){Dlgap1}; \node[big] at (675,1071){Smad9}; \node[big] at (568,1191){Myc}; \node[big] at (550,1309){Serpina4-ps1}; \node[big] at (920,1334){Selenbp2};
\end{scope}
% ---------- gene labels F ----------
\begin{scope}[shift={(450pt,-788.9pt)},x=.2856pt,y=-.2577pt]
\draw[seg] (258,480)--(262,510) (477,1343)--(605,1350);
\node[big] at (180,458){Cd19}; \node[big] at (384,427){Nptx1}; \node[big] at (519,541){Hist1h1d}; \node[big] at (914,553){Cyp4a14}; \node[big] at (194,671){Pde6c}; \node[big] at (651,655){Bbc3}; \node[big] at (426,942){Cabyr}; \node[big] at (815,931){Rnf144b}; \node[big] at (558,1093){Ppp4r4}; \node[big] at (921,1102){Zfp445}; \node[big] at (605,1248){Foxq1}; \node[big] at (818,1273){Cxcl1}; \node[big] at (405,1343){Cish};
\end{scope}
% ---------- threshold and zero lines on top ----------
\hlines{41.03pt,-340.5pt}{405.98}{269.78}{.587}{22.07}{-6.5}{8.75}
\hlines{483.6pt,-343.5pt}{411.9}{269.25}{.716}{22.68}{-7.45}{9.48}
\hlines{60.23pt,-744.2pt}{401.8}{272.5}{2.457}{22.37}{-2.58}{5.07}
\hlines{499.1pt,-741.2pt}{397.1}{265}{-.98}{22.45}{-2.245}{4.225}
\hlines{67.5pt,-1160.25pt}{354.45}{289}{2.77}{22.24}{-2.65}{2.22}
\hlines{474.3pt,-1147.8pt}{418.95}{279.3}{1.43}{22.47}{-2.32}{2.233}
\end{tikzpicture}
\end{document}
